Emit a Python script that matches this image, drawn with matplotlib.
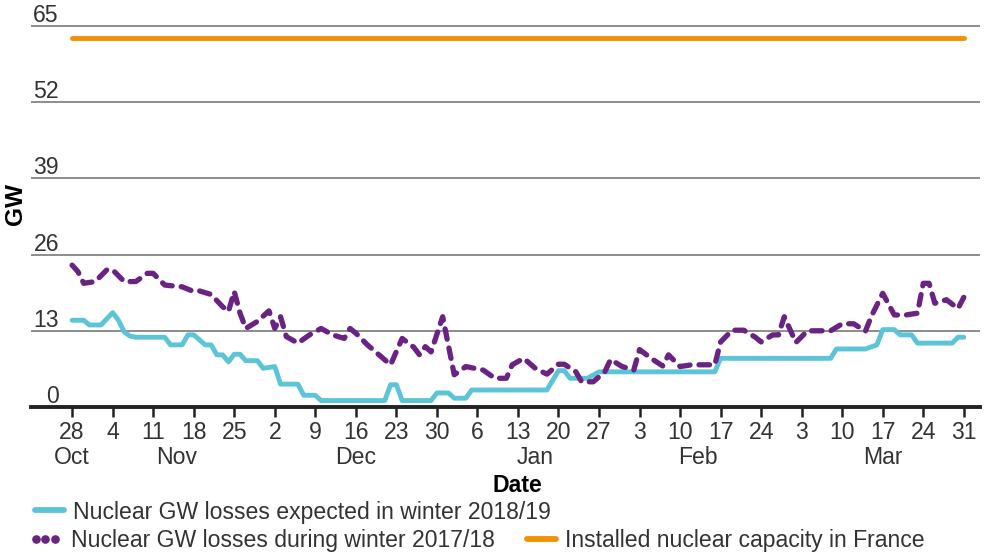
import pandas as pd
import matplotlib
matplotlib.use("Agg")
import matplotlib.pyplot as plt
import matplotlib.transforms as mtransforms
from matplotlib.lines import Line2D

plt.rcParams["font.family"] = ["Liberation Sans", "DejaVu Sans"]
plt.rcParams["text.color"] = "#333333"

BLUE = "#5BC4D6"
PURPLE = "#6A2383"
ORANGE = "#F39200"
FS = 16.6

# nuclear losses expected in winter 2018/19 (GW)
blue_dates = ["2018-10-28", "2018-10-30", "2018-10-31", "2018-11-02", "2018-11-04", "2018-11-05",
              "2018-11-06", "2018-11-07", "2018-11-08", "2018-11-13", "2018-11-14", "2018-11-16",
              "2018-11-17", "2018-11-18", "2018-11-20", "2018-11-21", "2018-11-22", "2018-11-23",
              "2018-11-24", "2018-11-25", "2018-11-26", "2018-11-27", "2018-11-29", "2018-11-30",
              "2018-12-02", "2018-12-03", "2018-12-06", "2018-12-07", "2018-12-09", "2018-12-10",
              "2018-12-21", "2018-12-22", "2018-12-23", "2018-12-24", "2018-12-29", "2018-12-30",
              "2019-01-01", "2019-01-02", "2019-01-04", "2019-01-05", "2019-01-18", "2019-01-20",
              "2019-01-21", "2019-01-22", "2019-01-25", "2019-01-27", "2019-02-16", "2019-02-17",
              "2019-03-08", "2019-03-09", "2019-03-14", "2019-03-16", "2019-03-17", "2019-03-19",
              "2019-03-20", "2019-03-22", "2019-03-23", "2019-03-29", "2019-03-30", "2019-03-31"]
blue_gw = [14.8, 14.8, 14.0, 14.0, 16.1, 14.8, 12.8, 12.1, 11.9, 11.9, 10.6, 10.6,
           12.3, 12.3, 10.6, 10.6, 8.9, 8.9, 7.7, 9.0, 9.0, 7.9, 7.9, 6.6,
           6.9, 3.9, 3.9, 2.0, 2.0, 1.1, 1.1, 3.8, 3.8, 1.1, 1.1, 2.4,
           2.4, 1.5, 1.5, 2.9, 2.9, 6.2, 6.2, 4.9, 4.9, 6.0, 6.0, 8.3,
           8.3, 9.9, 9.9, 10.6, 13.2, 13.2, 12.3, 12.3, 10.9, 10.9, 11.9, 11.9]

# nuclear losses during winter 2017/18, plotted on the same calendar (GW)
purple_dates = ["2018-10-28", "2018-10-29", "2018-10-30", "2018-11-01", "2018-11-03", "2018-11-04",
                "2018-11-06", "2018-11-08", "2018-11-10", "2018-11-11", "2018-11-13", "2018-11-16",
                "2018-11-18", "2018-11-19", "2018-11-21", "2018-11-23", "2018-11-24", "2018-11-25",
                "2018-11-26", "2018-11-27", "2018-11-29", "2018-12-01", "2018-12-02", "2018-12-03",
                "2018-12-04", "2018-12-06", "2018-12-08", "2018-12-10", "2018-12-12", "2018-12-14",
                "2018-12-15", "2018-12-16", "2018-12-18", "2018-12-20", "2018-12-22", "2018-12-24",
                "2018-12-26", "2018-12-27", "2018-12-28", "2018-12-29", "2018-12-31", "2019-01-02",
                "2019-01-04", "2019-01-07", "2019-01-09", "2019-01-11", "2019-01-12", "2019-01-14",
                "2019-01-16", "2019-01-18", "2019-01-20", "2019-01-21", "2019-01-23", "2019-01-24",
                "2019-01-26", "2019-01-28", "2019-01-29", "2019-01-31", "2019-02-02", "2019-02-03",
                "2019-02-05", "2019-02-07", "2019-02-08", "2019-02-10", "2019-02-12", "2019-02-16",
                "2019-02-17", "2019-02-19", "2019-02-21", "2019-02-23", "2019-02-24", "2019-02-26",
                "2019-02-27", "2019-02-28", "2019-03-02", "2019-03-04", "2019-03-08", "2019-03-10",
                "2019-03-12", "2019-03-14", "2019-03-15", "2019-03-17", "2019-03-19", "2019-03-21",
                "2019-03-23", "2019-03-24", "2019-03-25", "2019-03-26", "2019-03-28", "2019-03-30",
                "2019-03-31"]
purple_gw = [24.2, 23.1, 21.1, 21.4, 23.4, 23.4,
             21.4, 21.4, 22.8, 22.8, 20.8, 20.5,
             19.7, 19.8, 19.2, 17.1, 16.3, 19.7,
             16.0, 13.4, 14.6, 16.4, 13.4, 15.4,
             12.0, 10.9, 12.3, 13.4, 12.3, 11.7,
             13.4, 12.6, 10.6, 8.9, 7.2, 11.7,
             10.2, 8.9, 10.3, 9.4, 15.4, 5.5,
             6.9, 6.3, 4.9, 4.9, 7.2, 8.3,
             6.6, 5.6, 7.3, 7.3, 6.0, 4.3,
             4.3, 6.0, 8.1, 6.9, 6.3, 9.8,
             8.3, 7.0, 8.9, 6.9, 7.2, 7.2,
             11.1, 13.1, 13.1, 11.9, 11.1, 12.3,
             12.3, 15.4, 11.0, 13.0, 13.0, 14.2,
             14.2, 12.9, 15.4, 19.4, 15.7, 15.7,
             16.0, 21.1, 21.1, 17.7, 18.3, 16.8,
             18.7]

# installed nuclear capacity in France (GW)
capacity_dates = ["2018-10-28", "2019-03-31"]
capacity_gw = [62.9, 62.9]

y_ticks = [0, 13, 26, 39, 52, 65]
month_labels = ["Oct", "Nov", "Dec", "Jan", "Feb", "Mar"]
month_label_dates = ["2018-10-28", "2018-11-15", "2018-12-16", "2019-01-16", "2019-02-13", "2019-03-17"]

label_blue = "Nuclear GW losses expected in winter 2018/19"
label_purple = "Nuclear GW losses during winter 2017/18"
label_orange = "Installed nuclear capacity in France"

W, H = 986, 553
fig = plt.figure(figsize=(W / 100, H / 100), dpi=100)
ax = fig.add_axes([31 / W, 1 - 407 / H, 949 / W, (407 - 24.8) / H])

ax.plot(pd.to_datetime(blue_dates), blue_gw, color=BLUE, lw=3.5,
        solid_capstyle="round", solid_joinstyle="round", zorder=3)
ax.plot(pd.to_datetime(purple_dates), purple_gw, color=PURPLE, lw=3.8,
        dashes=(2.0, 1.7), dash_capstyle="round", dash_joinstyle="round", zorder=4)
ax.plot(pd.to_datetime(capacity_dates), capacity_gw, color=ORANGE, lw=3.5,
        solid_capstyle="round", zorder=5)

start = pd.Timestamp("2018-10-28")
ax.set_xlim(start - pd.Timedelta(days=7.1), start + pd.Timedelta(days=156.8))
ax.set_ylim(0, 65.2)

# y grid + labels sitting above the lines
ax.set_yticks(y_ticks[1:])
ax.yaxis.grid(True, color="#6e6e6e", lw=1.1)
ax.set_axisbelow(True)
ax.tick_params(axis="y", length=0, labelleft=False)
ytrans = mtransforms.offset_copy(
    mtransforms.blended_transform_factory(ax.transAxes, ax.transData), fig=fig, y=4, units="dots")
for v in y_ticks:
    ax.text(0.0295, v, str(v), transform=ytrans, ha="right", va="baseline", fontsize=FS)

# weekly x ticks
week_ticks = pd.date_range("2018-10-28", "2019-03-31", freq="7D")
ax.set_xticks(week_ticks)
ax.set_xticklabels([str(d.day) for d in week_ticks])
ax.tick_params(axis="x", length=7, width=1.8, color="#222222", pad=3,
               labelsize=FS, labelcolor="#333333")

mtrans = mtransforms.blended_transform_factory(ax.transData, ax.transAxes)
for m, d in zip(month_labels, pd.to_datetime(month_label_dates)):
    ax.text(d, -0.131, m, transform=mtrans, ha="center", va="center", fontsize=FS)

for s in ["top", "right", "left"]:
    ax.spines[s].set_visible(False)
ax.spines["bottom"].set_color("#222222")
ax.spines["bottom"].set_linewidth(2.8)

ax.set_xlabel("Date", fontsize=FS, fontweight="bold", va="center")
ax.xaxis.set_label_coords(0.512, -0.205)
ax.set_ylabel("GW", fontsize=FS + 1, fontweight="bold", va="center")
ax.yaxis.set_label_coords(-0.0165, 0.53)

# legend: one entry on the first row, two on the second
common = dict(loc="center left", frameon=False, fontsize=FS,
              borderpad=0, borderaxespad=0)
fig.legend([Line2D([], [], color=BLUE, lw=4.2, solid_capstyle="round")], [label_blue],
           bbox_to_anchor=(35 / W, 1 - 512 / H), handlelength=1.25, handletextpad=0.4, **common)
fig.legend([Line2D([], [], color=PURPLE, ls="none", marker="o", markersize=5.2)],
           [label_purple], bbox_to_anchor=(29 / W, 1 - 541 / H), numpoints=3,
           handlelength=1.42, handletextpad=0.42, **common)
fig.legend([Line2D([], [], color=ORANGE, lw=4.2, solid_capstyle="round")], [label_orange],
           bbox_to_anchor=(527 / W, 1 - 541 / H), handlelength=1.25, handletextpad=0.4, **common)

fig.savefig("out.png", dpi=100)
